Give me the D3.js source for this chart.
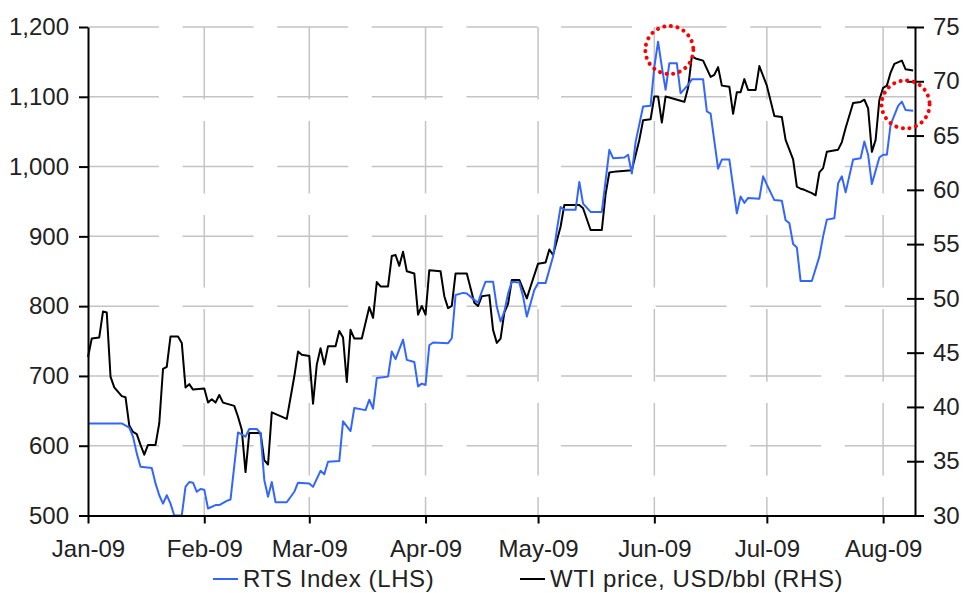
<!DOCTYPE html>
<html>
<head>
<meta charset="utf-8">
<script src="https://cdn.jsdelivr.net/npm/d3@7"></script>
<style>
  html, body { margin: 0; padding: 0; background: #fff; }
  svg { display: block; }
  text { font-family: "Liberation Sans", Arial, sans-serif; }
</style>
</head>
<body>
<svg id="chart" width="964" height="593"></svg>
<script>
// ---- data ----
const rtsDates = ["2009-01-01","2009-01-10","2009-01-12","2009-01-13","2009-01-14","2009-01-15","2009-01-18","2009-01-19","2009-01-20","2009-01-21","2009-01-22","2009-01-23","2009-01-24","2009-01-26","2009-01-27","2009-01-28","2009-01-29","2009-01-30","2009-01-31","2009-02-01","2009-02-02","2009-02-04","2009-02-05","2009-02-07","2009-02-08","2009-02-10","2009-02-12","2009-02-13","2009-02-15","2009-02-16","2009-02-17","2009-02-18","2009-02-19","2009-02-20","2009-02-23","2009-02-25","2009-02-26","2009-03-01","2009-03-02","2009-03-04","2009-03-05","2009-03-06","2009-03-09","2009-03-10","2009-03-12","2009-03-13","2009-03-16","2009-03-17","2009-03-18","2009-03-19","2009-03-22","2009-03-23","2009-03-24","2009-03-26","2009-03-27","2009-03-29","2009-03-30","2009-03-31","2009-04-01","2009-04-02","2009-04-03","2009-04-07","2009-04-08","2009-04-09","2009-04-11","2009-04-12","2009-04-14","2009-04-15","2009-04-16","2009-04-17","2009-04-19","2009-04-20","2009-04-21","2009-04-22","2009-04-23","2009-04-24","2009-04-26","2009-04-27","2009-04-28","2009-04-30","2009-05-01","2009-05-03","2009-05-05","2009-05-06","2009-05-07","2009-05-08","2009-05-11","2009-05-12","2009-05-13","2009-05-15","2009-05-18","2009-05-20","2009-05-21","2009-05-24","2009-05-25","2009-05-26","2009-05-27","2009-05-29","2009-05-31","2009-06-01","2009-06-02","2009-06-03","2009-06-04","2009-06-05","2009-06-07","2009-06-08","2009-06-10","2009-06-11","2009-06-14","2009-06-15","2009-06-16","2009-06-18","2009-06-19","2009-06-21","2009-06-23","2009-06-24","2009-06-25","2009-06-26","2009-06-29","2009-06-30","2009-07-01","2009-07-03","2009-07-05","2009-07-06","2009-07-07","2009-07-08","2009-07-09","2009-07-10","2009-07-13","2009-07-15","2009-07-16","2009-07-17","2009-07-19","2009-07-20","2009-07-21","2009-07-22","2009-07-24","2009-07-26","2009-07-27","2009-07-28","2009-07-29","2009-07-31","2009-08-01","2009-08-02","2009-08-03","2009-08-05","2009-08-06","2009-08-07","2009-08-09"];
const rtsValues = [632,632,626,613,589,570,568,546,529,517,529,517,500,500,541,548,547,534,538,537,510,515,515,521,523,619,613,624,624,618,551,527,548,519,519,534,547,546,541,564,559,577,578,635,621,654,651,666,653,697,699,735,724,752,723,720,685,689,687,744,748,747,754,816,819,818,809,805,821,835,835,799,778,792,818,835,834,814,785,823,833,833,871,909,942,938,938,978,947,935,935,1024,1012,1013,1017,990,1035,1086,1087,1143,1179,1143,1110,1148,1148,1105,1117,1125,1125,1079,1076,997,1010,1010,933,957,948,955,954,986,974,952,951,923,919,889,884,836,836,871,900,924,926,976,986,963,1010,1012,1036,1017,975,1013,1017,1017,1060,1087,1093,1081,1080];

const wtiDates = ["2009-01-01","2009-01-02","2009-01-04","2009-01-05","2009-01-06","2009-01-07","2009-01-08","2009-01-10","2009-01-11","2009-01-12","2009-01-13","2009-01-14","2009-01-15","2009-01-16","2009-01-17","2009-01-19","2009-01-20","2009-01-21","2009-01-22","2009-01-23","2009-01-25","2009-01-26","2009-01-27","2009-01-28","2009-01-29","2009-02-01","2009-02-02","2009-02-03","2009-02-04","2009-02-05","2009-02-06","2009-02-09","2009-02-10","2009-02-11","2009-02-12","2009-02-13","2009-02-16","2009-02-17","2009-02-18","2009-02-19","2009-02-23","2009-02-25","2009-02-26","2009-02-27","2009-03-01","2009-03-02","2009-03-03","2009-03-04","2009-03-05","2009-03-06","2009-03-08","2009-03-09","2009-03-10","2009-03-11","2009-03-12","2009-03-13","2009-03-15","2009-03-17","2009-03-18","2009-03-19","2009-03-20","2009-03-22","2009-03-23","2009-03-24","2009-03-25","2009-03-26","2009-03-27","2009-03-29","2009-03-30","2009-03-31","2009-04-01","2009-04-02","2009-04-05","2009-04-06","2009-04-07","2009-04-08","2009-04-09","2009-04-12","2009-04-14","2009-04-15","2009-04-16","2009-04-18","2009-04-19","2009-04-20","2009-04-21","2009-04-22","2009-04-23","2009-04-24","2009-04-26","2009-04-28","2009-04-29","2009-05-01","2009-05-03","2009-05-04","2009-05-05","2009-05-07","2009-05-08","2009-05-12","2009-05-13","2009-05-15","2009-05-18","2009-05-19","2009-05-20","2009-05-22","2009-05-26","2009-05-28","2009-05-29","2009-05-31","2009-06-01","2009-06-02","2009-06-03","2009-06-04","2009-06-05","2009-06-08","2009-06-09","2009-06-10","2009-06-11","2009-06-12","2009-06-14","2009-06-16","2009-06-17","2009-06-18","2009-06-19","2009-06-21","2009-06-22","2009-06-23","2009-06-24","2009-06-25","2009-06-26","2009-06-28","2009-06-29","2009-07-01","2009-07-03","2009-07-05","2009-07-06","2009-07-08","2009-07-09","2009-07-10","2009-07-11","2009-07-13","2009-07-14","2009-07-15","2009-07-16","2009-07-17","2009-07-20","2009-07-21","2009-07-22","2009-07-24","2009-07-26","2009-07-27","2009-07-28","2009-07-29","2009-07-30","2009-07-31","2009-08-01","2009-08-02","2009-08-03","2009-08-04","2009-08-06","2009-08-07","2009-08-09"];
const wtiValues = [44.6,46.3,46.4,48.8,48.7,42.8,41.8,41.0,40.9,38.3,37.7,37.5,36.5,35.6,36.5,36.5,38.5,43.5,43.7,46.5,46.5,45.9,41.8,42.1,41.6,41.7,40.4,40.7,40.4,41.1,40.4,40.1,39.1,37.9,34.0,37.6,37.6,35.1,34.7,39.5,38.9,42.8,45.1,44.8,44.7,40.3,43.9,45.4,43.9,45.6,45.6,47.0,46.4,42.3,47.1,46.3,46.3,49.2,48.2,51.5,51.1,51.1,53.9,54.0,53.0,54.3,52.5,52.3,48.5,49.3,48.5,52.6,52.5,50.2,49.1,49.3,52.3,52.3,49.6,49.3,50.2,50.3,47.1,45.9,46.3,48.7,49.5,51.7,51.7,50.0,51.1,53.2,53.3,54.5,54.0,56.6,58.6,58.6,58.3,56.3,56.3,59.6,61.6,61.7,61.8,64.6,66.4,66.5,68.6,68.6,66.2,68.6,68.5,68.2,68.1,69.4,72.3,72.1,71.9,70.4,70.6,71.3,69.6,69.5,67.0,69.0,69.0,70.2,69.2,69.2,71.4,69.6,66.8,66.7,64.6,62.8,60.3,60.1,60.0,59.7,59.5,61.6,62.0,63.5,63.7,64.4,65.7,68.0,68.1,68.3,67.5,63.5,64.6,68.3,69.4,69.6,70.8,71.6,71.9,71.1,71.0];

const leftTicks = [500,600,700,800,900,1000,1100,1200];
const rightTicks = [30,35,40,45,50,55,60,65,70,75];
const monthTicks = ["2009-01-01","2009-02-01","2009-03-01","2009-04-01","2009-05-01","2009-06-01","2009-07-01","2009-08-01"];
const xDomain = ["2009-01-01T00:00:00Z","2009-08-09T12:00:00Z"];
const seriesNames = ["RTS Index (LHS)", "WTI price, USD/bbl (RHS)"];
// annotation circles: [date, RTS value]
const highlights = [["2009-06-05", 1167], ["2009-08-07", 1089]];

// ---- drawing ----
const parse = d3.utcParse("%Y-%m-%d");
const svg = d3.select("#chart");
const L = 88, R = 915, T = 27, B = 515.5;
const FONT = 24;

const x = d3.scaleUtc().domain(xDomain.map(d => new Date(d))).range([L, R]);
const yL = d3.scaleLinear().domain([500, 1200]).range([B, T]);
const yR = d3.scaleLinear().domain([30, 75]).range([B, T]);

const gridColor = "#c4c4c4";
// horizontal grid
svg.append("g").selectAll("line").data(leftTicks.filter(v => v > 500)).join("line")
  .attr("x1", L).attr("x2", R).attr("y1", d => yL(d)).attr("y2", d => yL(d))
  .attr("stroke", gridColor).attr("stroke-width", 1.5).attr("stroke-dasharray", "71,23.6");
// vertical grid
svg.append("g").selectAll("line").data(monthTicks.slice(1)).join("line")
  .attr("x1", d => x(parse(d))).attr("x2", d => x(parse(d))).attr("y1", T).attr("y2", B)
  .attr("stroke", gridColor).attr("stroke-width", 1.5).attr("stroke-dasharray", "72.5,21.5");

// lines
const rts = rtsDates.map((d, i) => [parse(d), rtsValues[i]]);
const wti = wtiDates.map((d, i) => [parse(d), wtiValues[i]]);
svg.append("path").datum(wti)
  .attr("fill", "none").attr("stroke", "#000").attr("stroke-width", 2).attr("stroke-linejoin", "round")
  .attr("d", d3.line().x(d => x(d[0])).y(d => yR(d[1])));
svg.append("path").datum(rts)
  .attr("fill", "none").attr("stroke", "#3366ff").attr("stroke-width", 2).attr("stroke-linejoin", "round")
  .attr("d", d3.line().x(d => x(d[0])).y(d => yL(d[1])));

// axes
function styleAxis(g) {
  g.select(".domain").attr("stroke", "#000").attr("stroke-width", 2);
  g.selectAll(".tick line").attr("stroke", "#000").attr("stroke-width", 2);
  g.selectAll("text").attr("font-family", '"Liberation Sans", Arial, sans-serif')
    .attr("font-size", FONT).attr("fill", "#222");
}
const fmt = d3.format(",");
svg.append("g").attr("transform", `translate(${L},0)`)
  .call(d3.axisLeft(yL).tickValues(leftTicks).tickFormat(fmt).tickSize(9).tickSizeOuter(0).tickPadding(10))
  .call(styleAxis);
const gr = svg.append("g").attr("transform", `translate(${R},0)`)
  .call(d3.axisRight(yR).tickValues(rightTicks).tickSize(9).tickSizeOuter(0).tickPadding(10))
  .call(styleAxis);
gr.selectAll(".tick line").attr("x1", -8).attr("x2", 9);
gr.selectAll(".tick text").attr("x", 18);
svg.append("g").attr("transform", `translate(0,${B})`)
  .call(d3.axisBottom(x).tickValues(monthTicks.map(parse)).tickFormat(d3.utcFormat("%b-%y")).tickSize(8).tickSizeOuter(0).tickPadding(16))
  .call(styleAxis);

// highlight circles
svg.append("g").selectAll("circle").data(highlights).join("circle")
  .attr("cx", d => x(parse(d[0]))).attr("cy", d => yL(d[1])).attr("r", 24)
  .attr("fill", "none").attr("stroke", "#ff0000").attr("stroke-width", 4)
  .attr("stroke-dasharray", "0.1,6.6").attr("stroke-linecap", "round");

// legend
const legendItems = [
  {name: seriesNames[0], color: "#3366ff", x0: 213},
  {name: seriesNames[1], color: "#000", x0: 520}
];
const lg = svg.append("g");
legendItems.forEach(it => {
  lg.append("line").attr("x1", it.x0).attr("x2", it.x0 + 25).attr("y1", 579).attr("y2", 579)
    .attr("stroke", it.color).attr("stroke-width", 2);
  lg.append("text").attr("x", it.x0 + 30).attr("y", 587).attr("font-size", FONT).attr("fill", "#222")
    .attr("letter-spacing", 0.6)
    .text(it.name);
});
</script>
</body>
</html>
